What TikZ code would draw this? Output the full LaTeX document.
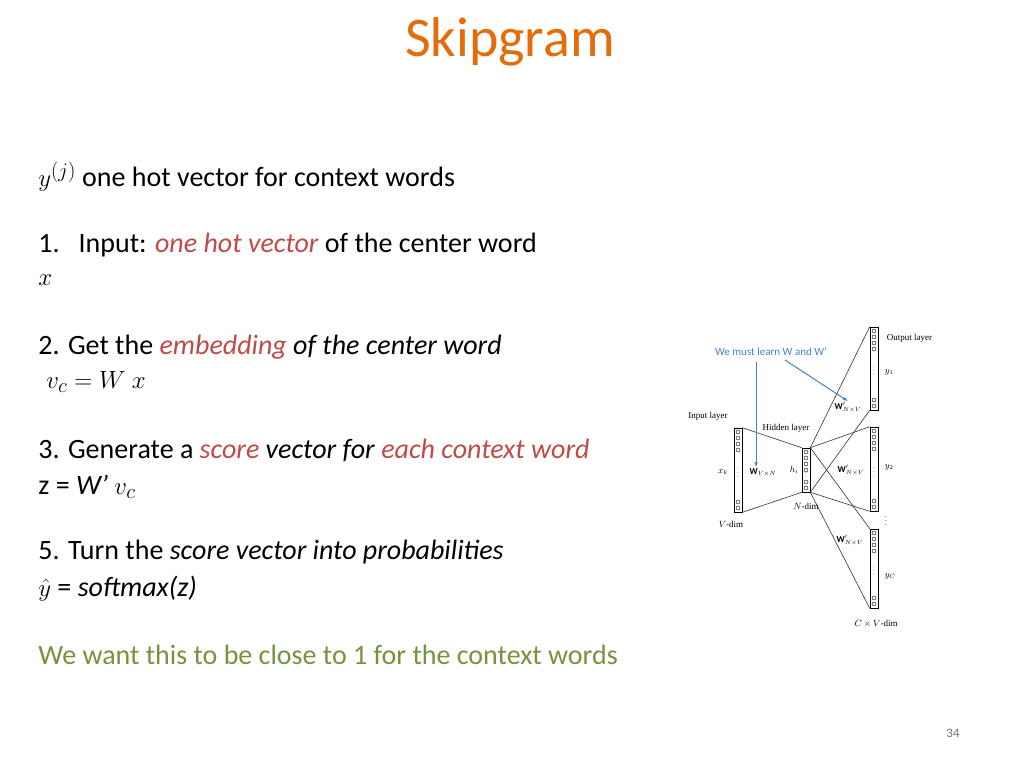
\documentclass[tikz,border=0pt]{standalone}
\usepackage{fontspec}
\setmainfont{Carlito}
\newfontfamily\netfont{Liberation Serif}
\usetikzlibrary{arrows.meta}
\definecolor{titleorange}{RGB}{228,108,10}
\definecolor{emphred}{RGB}{190,75,72}
\definecolor{wantgreen}{RGB}{118,146,60}
\definecolor{noteblue}{RGB}{70,130,200}
\tikzset{every picture/.style={line width=0.75pt}}
\tikzset{
  body/.style={anchor=west,inner sep=0pt,font=\fontsize{28}{32}\selectfont},
  netlabel/.style={inner sep=0.5pt,font=\netfont\fontsize{9}{10}\selectfont},
  wire/.style={line width=0.6pt,black!80},
  layer/.style={draw,line width=0.6pt,minimum width=8pt,inner sep=0pt}
}
\newcommand{\cells}[3]{% column node, top y, bottom y
  \foreach \k in {0,1,2,3} {\draw[line width=0.4pt] (#1,#2+4+\k*6) circle (2pt);}
  \foreach \k in {0,1} {\draw[line width=0.4pt] (#1,#3-4-\k*6) circle (2pt);}
  \node[inner sep=0pt,font=\tiny] at (#1,{(#2+#3)/2}) {$\vdots$};
}
\begin{document}
\begin{tikzpicture}[x=1pt,y=1pt,yscale=-1,xscale=1]
	\useasboundingbox (0,0) rectangle (1024,768);

	% Title
	\node[text=titleorange,font=\fontsize{56}{62}\selectfont] (title) at (510,42) {Skipgram};

	% Text lines
	\node[body] (yj) at (38,177) {$y^{(j)}$ one hot vector for context words};
	\node[body] (step1) at (38,245) {1.\ \ \ Input: \textcolor{emphred}{\itshape one hot vector} of the center word};
	\node[body] (x1) at (38,280) {$x$};
	\node[body] (step2) at (38,347) {2. Get the \textcolor{emphred}{\itshape embedding} \textit{of the center word}};
	\node[body] (vc) at (46,382) {$v_c = W\ x$};
	\node[body] (step3) at (38,450) {3. Generate a \textcolor{emphred}{\itshape score} \textit{vector for} \textcolor{emphred}{\itshape each context word}};
	\node[body] (z) at (38,487) {z = \textit{W'} $v_c$};
	\node[body] (step5) at (38,552) {5. Turn the \textit{score vector into probabilities}};
	\node[body] (yhat) at (38,589) {$\hat{y}$ = \textit{softmax(z)}};
	\node[body,text=wantgreen] (want) at (38,655) {We want this to be close to 1 for the context words};
	\node[text=black!55,font=\fontsize{13}{15}\selectfont] (page) at (953,733) {34};

	% Network layers
	\node[layer,minimum height=84pt] (inp) at (738,470) {};
	\node[layer,minimum height=44pt] (hid) at (806,470) {};
	\node[layer,minimum height=83pt] (out1) at (874,368.5) {};
	\node[layer,minimum height=84pt] (out2) at (874,469) {};
	\node[layer,minimum height=79pt] (out3) at (874,568.5) {};
	\cells{738}{428}{512}
	\cells{806}{448}{492}
	\cells{874}{327}{410}
	\cells{874}{427}{511}
	\cells{874}{529}{608}

	% Connections
	\draw[wire] (inp.north east) -- (hid.north west);
	\draw[wire] (inp.south east) -- (hid.south west);
	\foreach \o in {out1,out2,out3} {
	  \draw[wire] (hid.north east) -- (\o.north west);
	  \draw[wire] (hid.south east) -- (\o.south west);
	}

	% Labels
	\node[netlabel,anchor=west] (outlbl) at (886,338) {Output layer};
	\node[netlabel,anchor=west] (y1) at (884,372) {$y_1$};
	\node[netlabel] (w1) at (848,407) {$\mathbf{W}'_{N\times V}$};
	\node[netlabel] (inlbl) at (708,416) {Input layer};
	\node[netlabel] (hidlbl) at (786,428) {Hidden layer};
	\node[netlabel] (xk) at (723,472) {$x_k$};
	\node[netlabel] (w0) at (763,472) {$\mathbf{W}_{V\times N}$};
	\node[netlabel] (hi) at (794,470) {$h_i$};
	\node[netlabel] (w2) at (851,470) {$\mathbf{W}'_{N\times V}$};
	\node[netlabel,anchor=west] (y2) at (884,467) {$y_2$};
	\node[netlabel] (ndim) at (806,506) {$N$-dim};
	\node[netlabel] (vdim) at (731,524) {$V$-dim};
	\node[inner sep=0pt,font=\scriptsize] (odots) at (886,518) {$\vdots$};
	\node[netlabel] (w3) at (850,540) {$\mathbf{W}'_{N\times V}$};
	\node[netlabel,anchor=west] (yc) at (884,576) {$y_C$};
	\node[netlabel] (cvdim) at (876,624) {$C\times V$-dim};

	% Annotation
	\node[text=noteblue,font=\fontsize{11}{13}\selectfont] (note) at (771,352) {We must learn W and W'};
	\draw[noteblue,line width=1pt,-{Latex[length=5pt]}] (756,362) -- (w0.north -| 756,0);
	\draw[noteblue,line width=1pt,-{Latex[length=5pt]}] (785,360) -- (w1.north);
\end{tikzpicture}
\end{document}
